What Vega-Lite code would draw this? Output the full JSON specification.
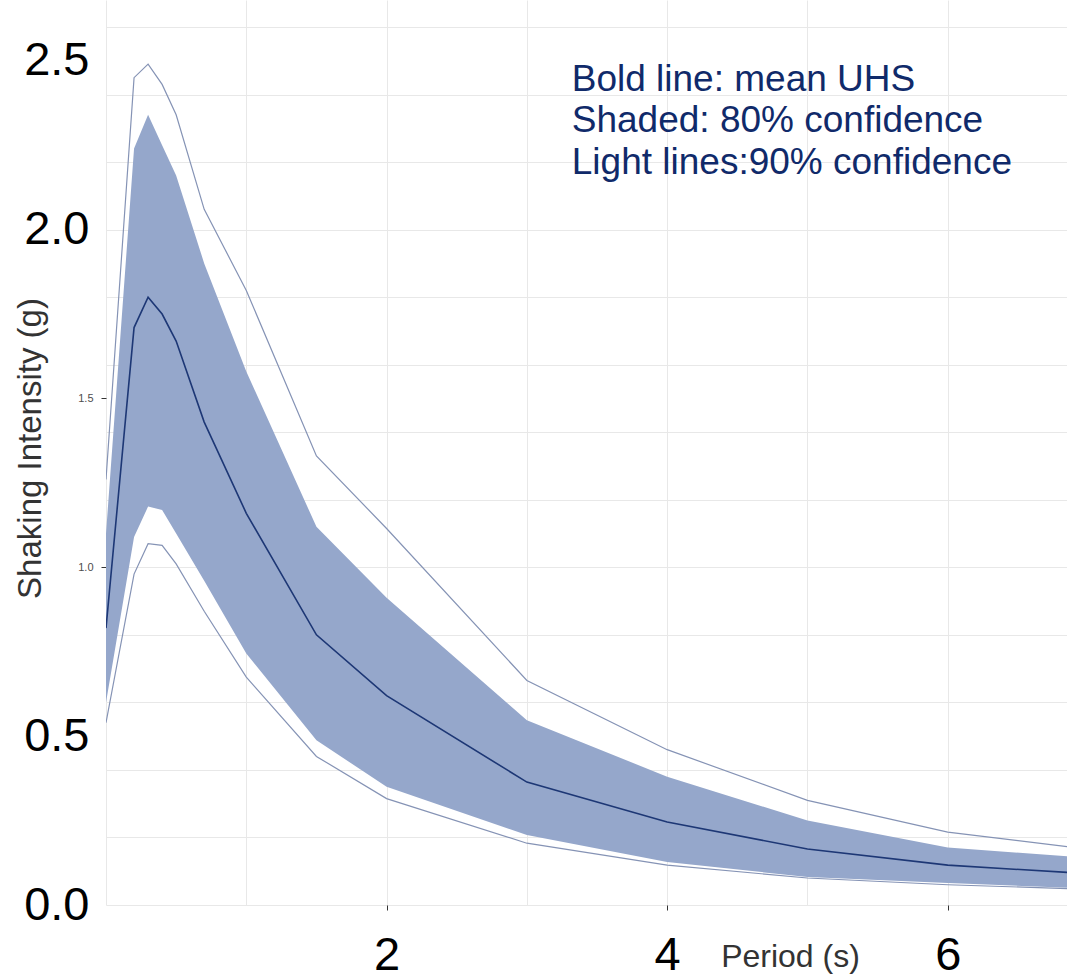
{
  "$schema": "https://vega.github.io/schema/vega-lite/v6.json",
  "autosize": "none",
  "width": 961,
  "height": 905,
  "padding": {"left": 106, "top": 0, "right": 0, "bottom": 75},
  "background": "white",
  "config": {
    "view": {"stroke": null},
    "font": "Liberation Sans"
  },
  "datasets": {
    "uhs": [
      {"period": 0, "mean": 0.82, "lo80": 0.6, "hi80": 1.1, "lo90": 0.54, "hi90": 1.26},
      {"period": 0.2, "mean": 1.71, "lo80": 1.09, "hi80": 2.24, "lo90": 0.98, "hi90": 2.45},
      {"period": 0.3, "mean": 1.8, "lo80": 1.18, "hi80": 2.34, "lo90": 1.07, "hi90": 2.49},
      {"period": 0.4, "mean": 1.75, "lo80": 1.17, "hi80": 2.25, "lo90": 1.065, "hi90": 2.43},
      {"period": 0.5, "mean": 1.67, "lo80": 1.1, "hi80": 2.16, "lo90": 1.01, "hi90": 2.34},
      {"period": 0.7, "mean": 1.43, "lo80": 0.96, "hi80": 1.9, "lo90": 0.87, "hi90": 2.06},
      {"period": 1, "mean": 1.16, "lo80": 0.745, "hi80": 1.58, "lo90": 0.675, "hi90": 1.82},
      {"period": 1.5, "mean": 0.8, "lo80": 0.488, "hi80": 1.12, "lo90": 0.44, "hi90": 1.33},
      {"period": 2, "mean": 0.62, "lo80": 0.35, "hi80": 0.91, "lo90": 0.315, "hi90": 1.115},
      {"period": 3, "mean": 0.364, "lo80": 0.207, "hi80": 0.547, "lo90": 0.183, "hi90": 0.665},
      {"period": 4, "mean": 0.246, "lo80": 0.127, "hi80": 0.38, "lo90": 0.118, "hi90": 0.46},
      {"period": 5, "mean": 0.166, "lo80": 0.083, "hi80": 0.25, "lo90": 0.08, "hi90": 0.31},
      {"period": 6, "mean": 0.118, "lo80": 0.065, "hi80": 0.17, "lo90": 0.06, "hi90": 0.216},
      {"period": 7.5, "mean": 0.08, "lo80": 0.04, "hi80": 0.125, "lo90": 0.04, "hi90": 0.14}
    ],
    "note": [
      {"note": "Bold line: mean UHS\nShaded: 80% confidence\nLight lines:90% confidence"}
    ]
  },
  "layer": [
    {
      "data": {"name": "uhs"},
      "mark": {"type": "area", "color": "#95a7cb", "opacity": 1, "clip": true},
      "encoding": {
        "x": {
          "field": "period",
          "type": "quantitative",
          "scale": {"domain": [0, 6.85], "nice": false, "zero": false},
          "axis": {
            "values": [0, 1, 2, 3, 4, 5, 6],
            "labelExpr": "(datum.value == 2 || datum.value == 4 || datum.value == 6) ? format(datum.value, 'd') : ''",
            "labelFontSize": 47,
            "labelColor": "#000000",
            "labelPadding": 22,
            "labelFlush": false,
            "labelOverlap": false,
            "tickSize": 5,
            "tickColor": "#333333",
            "tickOpacity": {"condition": {"test": "datum.value == 2 || datum.value == 4 || datum.value == 6", "value": 1}, "value": 0},
            "domain": false,
            "grid": true,
            "gridColor": "#e8e8e8",
            "gridWidth": 1,
            "title": "Period (s)",
            "titleFontSize": 32,
            "titleFontWeight": "normal",
            "titleColor": "#333333",
            "titleX": 684,
            "titleY": 51,
            "titleAlign": "center",
            "titleBaseline": "middle"
          }
        },
        "y": {
          "field": "lo80",
          "type": "quantitative",
          "scale": {"domain": [0, 2.68], "nice": false},
          "axis": {
            "values": [0, 0.2, 0.4, 0.5, 0.6, 0.8, 1, 1.2, 1.4, 1.5, 1.6, 1.8, 2, 2.2, 2.4, 2.5, 2.6],
            "labelExpr": "indexof([0, 0.5, 1, 1.5, 2, 2.5], datum.value) >= 0 ? format(datum.value, '.1f') : ''",
            "labelFontSize": {"condition": {"test": "datum.value == 1 || datum.value == 1.5", "value": 11}, "value": 47},
            "labelColor": {"condition": {"test": "datum.value == 1 || datum.value == 1.5", "value": "#4d4d4d"}, "value": "#000000"},
            "labelPadding": {"condition": {"test": "datum.value == 1 || datum.value == 1.5", "value": 8}, "value": 12},
            "labelBaseline": "middle",
            "labelFlush": false,
            "labelOverlap": false,
            "tickSize": 5,
            "tickColor": "#333333",
            "tickOpacity": {"condition": {"test": "datum.value == 1 || datum.value == 1.5", "value": 1}, "value": 0},
            "domain": false,
            "grid": true,
            "gridColor": "#e8e8e8",
            "gridWidth": 1,
            "gridOpacity": {"condition": {"test": "datum.value == 0.5 || datum.value == 1.5 || datum.value == 2.5", "value": 0}, "value": 1},
            "title": "Shaking Intensity (g)",
            "titleFontSize": 33,
            "titleFontWeight": "normal",
            "titleColor": "#333333",
            "titleX": -76,
            "titleY": 448,
            "titleAngle": -90,
            "titleAlign": "center",
            "titleBaseline": "middle"
          }
        },
        "y2": {"field": "hi80"}
      }
    },
    {
      "data": {"name": "uhs"},
      "mark": {"type": "line", "color": "#8593b5", "strokeWidth": 1.2, "clip": true},
      "encoding": {
        "x": {"field": "period", "type": "quantitative"},
        "y": {"field": "hi90", "type": "quantitative"}
      }
    },
    {
      "data": {"name": "uhs"},
      "mark": {"type": "line", "color": "#8593b5", "strokeWidth": 1.2, "clip": true},
      "encoding": {
        "x": {"field": "period", "type": "quantitative"},
        "y": {"field": "lo90", "type": "quantitative"}
      }
    },
    {
      "data": {"name": "uhs"},
      "mark": {"type": "line", "color": "#1d3775", "strokeWidth": 1.6, "clip": true},
      "encoding": {
        "x": {"field": "period", "type": "quantitative"},
        "y": {"field": "mean", "type": "quantitative"}
      }
    },
    {
      "data": {"name": "note"},
      "mark": {"type": "text", "align": "left", "baseline": "alphabetic", "fontSize": 37, "lineHeight": 41.5, "lineBreak": "\n", "color": "#102a6a", "font": "Liberation Sans"},
      "encoding": {
        "x": {"datum": 3.32, "type": "quantitative"},
        "y": {"datum": 2.412, "type": "quantitative"},
        "text": {"field": "note", "type": "nominal"}
      }
    }
  ]
}
